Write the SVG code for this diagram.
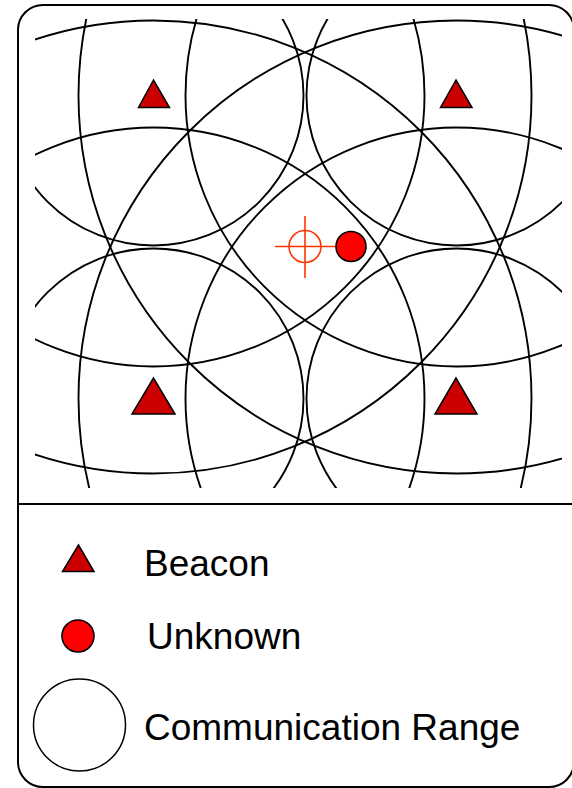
<svg xmlns="http://www.w3.org/2000/svg" width="572" height="788" viewBox="0 0 572 788">
<style>
.ring{fill:none;stroke:#000;stroke-width:1.9}
.beacon{fill:#CC0000;stroke:#000;stroke-width:1.5;stroke-linejoin:miter}
.unknown{fill:#FF0000;stroke:#000;stroke-width:1.6}
.cross{fill:none;stroke:#FF3300;stroke-width:1.6}
.lbl{font-family:"Liberation Sans",Arial,sans-serif;font-size:37px;fill:#000}
.frame{fill:none;stroke:#000;stroke-width:2}
</style>
<defs>
<clipPath id="field"><rect x="35" y="19" width="527" height="469"/></clipPath>
</defs>
<rect width="572" height="788" fill="#fff"/>
<g id="frame">
<rect class="frame" x="18" y="5" width="556" height="782" rx="25" ry="25"/>
<line class="frame" x1="18" y1="504" x2="574" y2="504"/>
</g>
<g id="connectors" clip-path="url(#field)">
<circle class="ring" cx="153.5" cy="95.5" r="150"/>
<circle class="ring" cx="153.5" cy="95.5" r="271"/>
<circle class="ring" cx="153.5" cy="95.5" r="378"/>
<circle class="ring" cx="456.5" cy="95.5" r="150"/>
<circle class="ring" cx="456.5" cy="95.5" r="271"/>
<circle class="ring" cx="456.5" cy="95.5" r="378"/>
<circle class="ring" cx="153.5" cy="398.5" r="150"/>
<circle class="ring" cx="153.5" cy="398.5" r="271"/>
<circle class="ring" cx="153.5" cy="398.5" r="378"/>
<circle class="ring" cx="456.5" cy="398.5" r="150"/>
<circle class="ring" cx="456.5" cy="398.5" r="271"/>
<circle class="ring" cx="456.5" cy="398.5" r="378"/>
</g>
<g id="beacon-tl"><polygon class="beacon" points="153.5,80 138.5,107.5 169.5,107.5"/></g>
<g id="beacon-tr"><polygon class="beacon" points="456,80 440.5,107.5 472,107.5"/></g>
<g id="beacon-bl"><polygon class="beacon" points="153.5,378 132,414 175,414"/></g>
<g id="beacon-br"><polygon class="beacon" points="456,378 435,414 477,414"/></g>
<g id="estimate">
<circle class="cross" cx="305" cy="246.5" r="16"/>
<line class="cross" x1="275" y1="246.5" x2="336" y2="246.5"/>
<line class="cross" x1="305" y1="216" x2="305" y2="278"/>
</g>
<g id="unknown"><circle class="unknown" cx="351" cy="246.5" r="15"/></g>
<g id="legend-beacon">
<polygon class="beacon" points="78.5,545 62.5,571.5 94,571.5"/>
<text class="lbl" x="144" y="576">Beacon</text>
</g>
<g id="legend-unknown">
<circle class="unknown" cx="78" cy="636" r="16"/>
<text class="lbl" x="147" y="649">Unknown</text>
</g>
<g id="legend-range">
<circle cx="79.5" cy="725" r="46" fill="#fff" stroke="#000" stroke-width="1.5"/>
<text class="lbl" x="144" y="740">Communication Range</text>
</g>
</svg>
